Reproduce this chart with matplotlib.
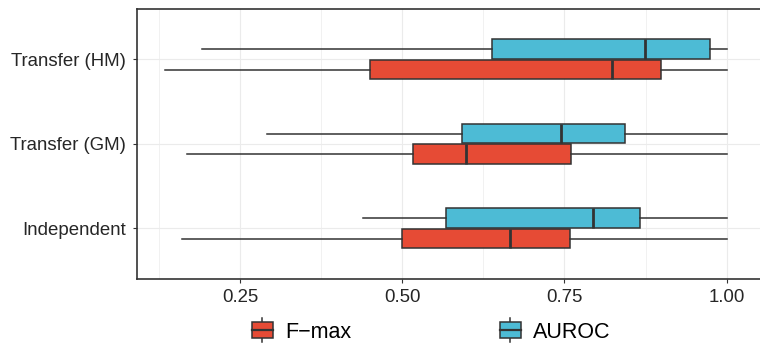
import matplotlib
matplotlib.use("Agg")
import matplotlib.pyplot as plt
from matplotlib.patches import Patch, Rectangle
from matplotlib.lines import Line2D
from matplotlib.legend_handler import HandlerBase
from matplotlib.ticker import MultipleLocator

plt.rcParams["font.family"] = ["Liberation Sans", "DejaVu Sans"]

# Categories, bottom to top
categories = ["Independent", "Transfer (GM)", "Transfer (HM)"]
series = ["F\u2212max", "AUROC"]
colors = ["#E64B35", "#4DBBD5"]

# Five-number summaries per category: whisker low, Q1, median, Q3, whisker high
fmax_lo = [0.160, 0.168, 0.134]
fmax_q1 = [0.500, 0.517, 0.450]
fmax_med = [0.666, 0.599, 0.823]
fmax_q3 = [0.759, 0.760, 0.899]
fmax_hi = [1.000, 1.000, 1.000]

auroc_lo = [0.440, 0.291, 0.191]
auroc_q1 = [0.567, 0.592, 0.639]
auroc_med = [0.794, 0.745, 0.874]
auroc_q3 = [0.866, 0.844, 0.974]
auroc_hi = [1.000, 1.000, 1.000]

xticks = [0.25, 0.50, 0.75, 1.00]
xtick_labels = ["0.25", "0.50", "0.75", "1.00"]

edge = "#333333"
grid = "#EBEBEB"


def summaries(lo, q1, med, q3, hi):
    return [dict(whislo=a, q1=b, med=c, q3=d, whishi=e, fliers=[])
            for a, b, c, d, e in zip(lo, q1, med, q3, hi)]


class BoxKey(HandlerBase):
    """Small vertical boxplot glyph for the legend."""

    def create_artists(self, legend, orig_handle, xdescent, ydescent,
                       width, height, fontsize, trans):
        x0, y0 = -xdescent, -ydescent
        cx = x0 + width / 2
        cy = y0 + height / 2
        whisker = Line2D([cx, cx], [y0 - 0.28 * height, y0 + 1.28 * height],
                         color=edge, lw=1.1, transform=trans)
        box = Rectangle((x0, y0), width, height,
                        facecolor=orig_handle.get_facecolor(),
                        edgecolor=edge, lw=1.1, transform=trans)
        med = Line2D([x0, x0 + width], [cy, cy], color=edge, lw=1.6,
                     transform=trans)
        return [whisker, box, med]


fig = plt.figure(figsize=(7.6, 3.45), dpi=100)
ax = fig.add_axes([137 / 760, 1 - 279 / 345, 1 - 137 / 760, (279 - 8.7) / 345])

pos = list(range(1, len(categories) + 1))
offset = 0.122
height = 0.23

stats = [summaries(fmax_lo, fmax_q1, fmax_med, fmax_q3, fmax_hi),
         summaries(auroc_lo, auroc_q1, auroc_med, auroc_q3, auroc_hi)]
shifts = [-offset, offset]

for st, shift, col in zip(stats, shifts, colors):
    ax.bxp(st, positions=[p + shift for p in pos], widths=height,
           orientation="horizontal", patch_artist=True, showcaps=False,
           showfliers=False, manage_ticks=False,
           boxprops=dict(facecolor=col, edgecolor=edge, linewidth=1.1),
           whiskerprops=dict(color=edge, linewidth=1.1),
           medianprops=dict(color=edge, linewidth=2.0, solid_capstyle="butt"),
           zorder=3)

ax.set_xlim(0.0913, 0.0913 + (760 - 137) / 648.9)
ax.set_ylim(0.4, 3.6)

ax.set_xticks(xticks)
ax.set_xticklabels(xtick_labels)
ax.xaxis.set_minor_locator(MultipleLocator(0.125))
ax.set_yticks(pos)
ax.set_yticklabels(categories)

ax.grid(True, which="major", color=grid, linewidth=0.8, zorder=0)
ax.grid(True, which="minor", axis="x", color=grid, linewidth=0.5, zorder=0)
ax.set_axisbelow(True)

ax.tick_params(axis="both", which="major", length=3, width=0.8, color=edge,
               labelsize=13.4, labelcolor="#262626")
ax.tick_params(axis="y", pad=5)
ax.tick_params(axis="x", pad=4)
ax.tick_params(which="minor", length=0)

for side in ["left", "bottom", "top"]:
    ax.spines[side].set_color(edge)
    ax.spines[side].set_linewidth(1.2)
ax.spines["right"].set_visible(False)

handles = [Patch(facecolor=c) for c in colors]
fig.legend(handles, series, handler_map={Patch: BoxKey()},
           loc="center", bbox_to_anchor=(431 / 760, 1 - 332 / 345),
           ncol=2, frameon=False, fontsize=15.5, handlelength=1.0,
           handleheight=0.7, handletextpad=0.55, columnspacing=6.9)

fig.savefig("out.png", dpi=100)
